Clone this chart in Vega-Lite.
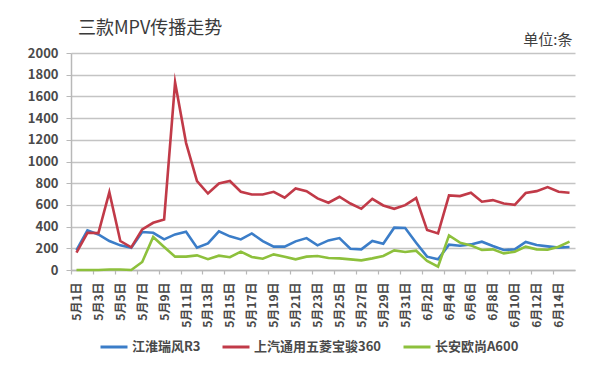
{
  "$schema": "https://vega.github.io/schema/vega-lite/v6.json",
  "width": 504,
  "height": 217,
  "autosize": {"type": "none"},
  "padding": {"left": 71, "top": 53, "right": 25, "bottom": 106},
  "background": "white",
  "title": {
    "text": "三款MPV传播走势",
    "anchor": "start",
    "frame": "group",
    "dx": 7,
    "dy": 14,
    "fontSize": 18,
    "fontWeight": "normal",
    "font": "Noto Sans CJK SC",
    "color": "#3a3a3a",
    "offset": 8
  },
  "data": {
    "values": [
      {"日期": "5月1日", "江淮瑞风R3": 184, "上汽通用五菱宝骏360": 160, "长安欧尚A600": 0},
      {"日期": "5月2日", "江淮瑞风R3": 365, "上汽通用五菱宝骏360": 343, "长安欧尚A600": 0},
      {"日期": "5月3日", "江淮瑞风R3": 328, "上汽通用五菱宝骏360": 340, "长安欧尚A600": 0},
      {"日期": "5月4日", "江淮瑞风R3": 267, "上汽通用五菱宝骏360": 718, "长安欧尚A600": 5},
      {"日期": "5月5日", "江淮瑞风R3": 227, "上汽通用五菱宝骏360": 267, "长安欧尚A600": 5},
      {"日期": "5月6日", "江淮瑞风R3": 205, "上汽通用五菱宝骏360": 209, "长安欧尚A600": 0},
      {"日期": "5月7日", "江淮瑞风R3": 350, "上汽通用五菱宝骏360": 374, "长安欧尚A600": 74},
      {"日期": "5月8日", "江淮瑞风R3": 343, "上汽通用五菱宝骏360": 435, "长安欧尚A600": 304},
      {"日期": "5月9日", "江淮瑞风R3": 282, "上汽通用五菱宝骏360": 466, "长安欧尚A600": 212},
      {"日期": "5月10日", "江淮瑞风R3": 328, "上汽通用五菱宝骏360": 1730, "长安欧尚A600": 123},
      {"日期": "5月11日", "江淮瑞风R3": 353, "上汽通用五菱宝骏360": 1172, "长安欧尚A600": 123},
      {"日期": "5月12日", "江淮瑞风R3": 205, "上汽通用五菱宝骏360": 819, "长安欧尚A600": 135},
      {"日期": "5月13日", "江淮瑞风R3": 245, "上汽通用五菱宝骏360": 705, "长安欧尚A600": 100},
      {"日期": "5月14日", "江淮瑞风R3": 356, "上汽通用五菱宝骏360": 797, "长安欧尚A600": 132},
      {"日期": "5月15日", "江淮瑞风R3": 310, "上汽通用五菱宝骏360": 820, "长安欧尚A600": 118},
      {"日期": "5月16日", "江淮瑞风R3": 282, "上汽通用五菱宝骏360": 721, "长安欧尚A600": 169},
      {"日期": "5月17日", "江淮瑞风R3": 337, "上汽通用五菱宝骏360": 696, "长安欧尚A600": 120},
      {"日期": "5月18日", "江淮瑞风R3": 267, "上汽通用五菱宝骏360": 696, "长安欧尚A600": 104},
      {"日期": "5月19日", "江淮瑞风R3": 215, "上汽通用五菱宝骏360": 721, "长安欧尚A600": 144},
      {"日期": "5月20日", "江淮瑞风R3": 215, "上汽通用五菱宝骏360": 666, "长安欧尚A600": 123},
      {"日期": "5月21日", "江淮瑞风R3": 264, "上汽通用五菱宝骏360": 751, "长安欧尚A600": 98},
      {"日期": "5月22日", "江淮瑞风R3": 294, "上汽通用五菱宝骏360": 727, "长安欧尚A600": 123},
      {"日期": "5月23日", "江淮瑞风R3": 227, "上汽通用五菱宝骏360": 660, "长安欧尚A600": 129},
      {"日期": "5月24日", "江淮瑞风R3": 273, "上汽通用五菱宝骏360": 620, "长安欧尚A600": 110},
      {"日期": "5月25日", "江淮瑞风R3": 294, "上汽通用五菱宝骏360": 675, "长安欧尚A600": 107},
      {"日期": "5月26日", "江淮瑞风R3": 196, "上汽通用五菱宝骏360": 613, "长安欧尚A600": 98},
      {"日期": "5月27日", "江淮瑞风R3": 190, "上汽通用五菱宝骏360": 564, "长安欧尚A600": 89},
      {"日期": "5月28日", "江淮瑞风R3": 267, "上汽通用五菱宝骏360": 656, "长安欧尚A600": 107},
      {"日期": "5月29日", "江淮瑞风R3": 242, "上汽通用五菱宝骏360": 595, "长安欧尚A600": 129},
      {"日期": "5月30日", "江淮瑞风R3": 390, "上汽通用五菱宝骏360": 564, "长安欧尚A600": 181},
      {"日期": "5月31日", "江淮瑞风R3": 387, "上汽通用五菱宝骏360": 598, "长安欧尚A600": 166},
      {"日期": "6月1日", "江淮瑞风R3": 252, "上汽通用五菱宝骏360": 663, "长安欧尚A600": 178},
      {"日期": "6月2日", "江淮瑞风R3": 123, "上汽通用五菱宝骏360": 368, "长安欧尚A600": 83},
      {"日期": "6月3日", "江淮瑞风R3": 98, "上汽通用五菱宝骏360": 337, "长安欧尚A600": 31},
      {"日期": "6月4日", "江淮瑞风R3": 233, "上汽通用五菱宝骏360": 687, "长安欧尚A600": 319},
      {"日期": "6月5日", "江淮瑞风R3": 224, "上汽通用五菱宝骏360": 681, "长安欧尚A600": 252},
      {"日期": "6月6日", "江淮瑞风R3": 236, "上汽通用五菱宝骏360": 712, "长安欧尚A600": 227},
      {"日期": "6月7日", "江淮瑞风R3": 261, "上汽通用五菱宝骏360": 629, "长安欧尚A600": 184},
      {"日期": "6月8日", "江淮瑞风R3": 221, "上汽通用五菱宝骏360": 644, "长安欧尚A600": 190},
      {"日期": "6月9日", "江淮瑞风R3": 184, "上汽通用五菱宝骏360": 613, "长安欧尚A600": 153},
      {"日期": "6月10日", "江淮瑞风R3": 190, "上汽通用五菱宝骏360": 601, "长安欧尚A600": 169},
      {"日期": "6月11日", "江淮瑞风R3": 258, "上汽通用五菱宝骏360": 709, "长安欧尚A600": 215},
      {"日期": "6月12日", "江淮瑞风R3": 230, "上汽通用五菱宝骏360": 727, "长安欧尚A600": 190},
      {"日期": "6月13日", "江淮瑞风R3": 218, "上汽通用五菱宝骏360": 764, "长安欧尚A600": 187},
      {"日期": "6月14日", "江淮瑞风R3": 206, "上汽通用五菱宝骏360": 721, "长安欧尚A600": 215},
      {"日期": "6月15日", "江淮瑞风R3": 212, "上汽通用五菱宝骏360": 712, "长安欧尚A600": 261}
    ]
  },
  "transform": [
    {"fold": ["江淮瑞风R3", "上汽通用五菱宝骏360", "长安欧尚A600"], "as": ["车型", "条数"]}
  ],
  "mark": {"type": "line", "strokeWidth": 2.6, "strokeJoin": "miter", "strokeMiterLimit": 10},
  "encoding": {
    "x": {
      "field": "日期",
      "type": "ordinal",
      "sort": null,
      "scale": {"type": "point", "padding": 0.5},
      "title": null,
      "axis": {
        "values": ["5月1日", "5月3日", "5月5日", "5月7日", "5月9日", "5月11日", "5月13日", "5月15日", "5月17日", "5月19日", "5月21日", "5月23日", "5月25日", "5月27日", "5月29日", "5月31日", "6月2日", "6月4日", "6月6日", "6月8日", "6月10日", "6月12日", "6月14日"],
        "labelAngle": -90,
        "labelFont": "Noto Sans CJK SC",
        "labelFontSize": 12,
        "labelFontWeight": "bold",
        "labelColor": "#4a4a4a",
        "labelPadding": 8,
        "tickOffset": -5.48,
        "labelOffset": 5.48,
        "tickSize": 4,
        "tickColor": "#b8b8b8",
        "tickWidth": 1.2,
        "domainColor": "#b8b8b8",
        "domainWidth": 1.5,
        "grid": false
      }
    },
    "y": {
      "field": "条数",
      "type": "quantitative",
      "scale": {"domain": [0, 2000], "nice": false},
      "title": "单位:条",
      "axis": {
        "values": [0, 200, 400, 600, 800, 1000, 1200, 1400, 1600, 1800, 2000],
        "format": "d",
        "labelFont": "Noto Sans CJK SC",
        "labelFontSize": 13,
        "labelFontWeight": "bold",
        "labelColor": "#4a4a4a",
        "labelPadding": 8,
        "tickSize": 5,
        "tickColor": "#b8b8b8",
        "domainColor": "#b8b8b8",
        "domainWidth": 1.5,
        "gridColor": "#c4c4c4",
        "gridWidth": 1.5,
        "titleAngle": 0,
        "titleAlign": "right",
        "titleBaseline": "middle",
        "titleX": 501,
        "titleY": -14,
        "titleFont": "Noto Sans CJK SC",
        "titleFontSize": 15,
        "titleFontWeight": "normal",
        "titleColor": "#404040"
      }
    },
    "color": {
      "field": "车型",
      "type": "nominal",
      "sort": ["江淮瑞风R3", "上汽通用五菱宝骏360", "长安欧尚A600"],
      "scale": {
        "domain": ["江淮瑞风R3", "上汽通用五菱宝骏360", "长安欧尚A600"],
        "range": ["#3b7dc8", "#c13a48", "#8dc03c"]
      },
      "legend": {
        "title": null,
        "orient": "none",
        "direction": "horizontal",
        "legendX": 28,
        "legendY": 279,
        "symbolType": "stroke",
        "symbolSize": 729,
        "symbolStrokeWidth": 3,
        "labelFont": "Noto Sans CJK SC",
        "labelFontSize": 13,
        "labelFontWeight": "bold",
        "labelColor": "#4a4a4a",
        "labelOffset": 3,
        "columnPadding": 15
      }
    }
  },
  "config": {"view": {"stroke": null}}
}
